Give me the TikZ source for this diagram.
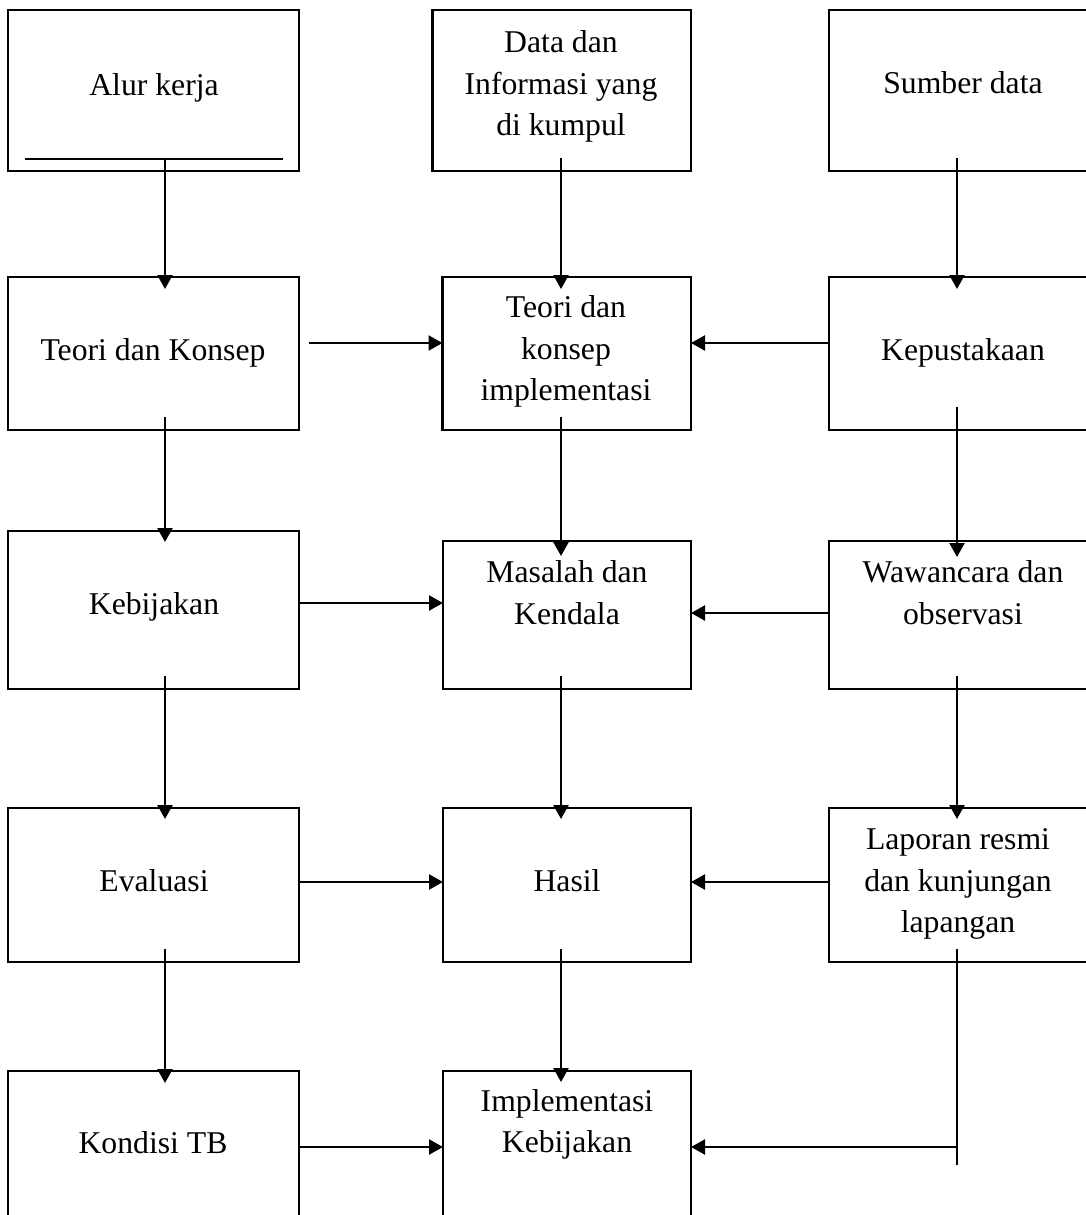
\documentclass[tikz,border=0pt]{standalone}
\usepackage{fontspec}
\setmainfont{Liberation Serif}
\usetikzlibrary{arrows.meta}
\tikzset{
  box/.style={draw, line width=2.3pt, inner sep=0pt, outer sep=0pt, rectangle},
  txt/.style={inner sep=0pt, outer sep=0pt, align=center, font=\fontsize{31.7}{41.5}\selectfont},
  conn/.style={line width=2.3pt},
  arr/.style={line width=2.3pt, -{Triangle[length=14pt,width=15pt]}},
}
\begin{document}
\begin{tikzpicture}[x=1pt,y=-1pt]
\clip (0,0) rectangle (1086,1215);
\fill[white] (0,0) rectangle (1086,1215);
% boxes
\node[box, minimum width=291pt, minimum height=161pt] (a1) at (153.5,90.5) {};
\node[box, minimum width=258.5pt, minimum height=161pt] (a2) at (561.75,90.5) {};
\node[box, minimum width=268pt, minimum height=161pt] (a3) at (963,90.5) {};
\node[box, minimum width=291pt, minimum height=153pt] (b1) at (153.5,353.5) {};
\node[box, minimum width=248.5pt, minimum height=153pt] (b2) at (566.75,353.5) {};
\node[box, minimum width=268pt, minimum height=153pt] (b3) at (963,353.5) {};
\node[box, minimum width=291pt, minimum height=158pt] (c1) at (153.5,610) {};
\node[box, minimum width=248pt, minimum height=148pt] (c2) at (567,615) {};
\node[box, minimum width=268pt, minimum height=148pt] (c3) at (963,615) {};
\node[box, minimum width=291pt, minimum height=154pt] (d1) at (153.5,885) {};
\node[box, minimum width=248pt, minimum height=154pt] (d2) at (567,885) {};
\node[box, minimum width=268pt, minimum height=154pt] (d3) at (963,885) {};
\node[box, minimum width=291pt, minimum height=169pt] (e1) at (153.5,1155.5) {};
\node[box, minimum width=248pt, minimum height=169pt] (e2) at (567,1155.5) {};
% texts
\node[txt] (ta1) at (154,87) {\strut Alur kerja};
\node[txt] (ta2) at (561,86) {\strut Data dan\\\strut Informasi yang\\\strut di kumpul};
\node[txt] (ta3) at (963,85) {\strut Sumber data};
\node[txt] (tb1) at (153,352) {\strut Teori dan Konsep};
\node[txt] (tb2) at (566,351) {\strut Teori dan\\\strut konsep\\\strut implementasi};
\node[txt] (tb3) at (963,352) {\strut Kepustakaan};
\node[txt] (tc1) at (154,606) {\strut Kebijakan};
\node[txt] (tc2) at (567,595) {\strut Masalah dan\\\strut Kendala};
\node[txt] (tc3) at (963,595) {\strut Wawancara dan\\\strut observasi};
\node[txt] (td1) at (154,883) {\strut Evaluasi};
\node[txt] (td2) at (567,883) {\strut Hasil};
\node[txt] (td3) at (958,883) {\strut Laporan resmi\\\strut dan kunjungan\\\strut lapangan};
\node[txt] (te1) at (153,1145) {\strut Kondisi TB};
\node[txt] (te2) at (567,1123.5) {\strut Implementasi\\\strut Kebijakan};
% line inside Alur kerja box
\draw[conn] ([xshift=-128.5pt,yshift=12pt]a1.south) -- ([xshift=129.5pt,yshift=12pt]a1.south);
% column 1 vertical arrows
\draw[arr] ([xshift=11.5pt,yshift=12pt]a1.south) -- ([xshift=11.5pt,yshift=-12pt]b1.north);
\draw[arr] ([xshift=11.5pt,yshift=13pt]b1.south) -- ([xshift=11.5pt,yshift=-11pt]c1.north);
\draw[arr] ([xshift=11.5pt,yshift=13pt]c1.south) -- ([xshift=11.5pt,yshift=-11pt]d1.north);
\draw[arr] ([xshift=11.5pt,yshift=13pt]d1.south) -- ([xshift=11.5pt,yshift=-12pt]e1.north);
% column 2 vertical arrows
\draw[arr] ([xshift=-0.75pt,yshift=13pt]a2.south) -- ([xshift=-5.75pt,yshift=-12pt]b2.north);
\draw[arr] ([xshift=-5.75pt,yshift=13pt]b2.south) -- ([xshift=-6pt,yshift=-15pt]c2.north);
\draw[arr] ([xshift=-6pt,yshift=13pt]c2.south) -- ([xshift=-6pt,yshift=-11pt]d2.north);
\draw[arr] ([xshift=-6pt,yshift=13pt]d2.south) -- ([xshift=-6pt,yshift=-11pt]e2.north);
% column 3 vertical arrows
\draw[arr] ([xshift=-6pt,yshift=13pt]a3.south) -- ([xshift=-6pt,yshift=-12pt]b3.north);
\draw[arr] ([xshift=-6pt,yshift=23pt]b3.south) -- ([xshift=-6pt,yshift=-16pt]c3.north);
\draw[arr] ([xshift=-6pt,yshift=13pt]c3.south) -- ([xshift=-6pt,yshift=-11pt]d3.north);
\coordinate (k) at (957,1147);
\coordinate (kend) at (957,1165);
\draw[conn] ([xshift=-6pt,yshift=13pt]d3.south) -- (kend);
% horizontal arrows
\draw[arr] ([xshift=10pt,yshift=10.5pt]b1.east) -- ([yshift=10.5pt]b2.west);
\draw[arr] ([yshift=10.5pt]b3.west) -- ([yshift=10.5pt]b2.east);
\draw[arr] ([yshift=7pt]c1.east) -- ([yshift=12pt]c2.west);
\draw[arr] ([yshift=2pt]c3.west) -- ([yshift=2pt]c2.east);
\draw[arr] ([yshift=3pt]d1.east) -- ([yshift=3pt]d2.west);
\draw[arr] ([yshift=3pt]d3.west) -- ([yshift=3pt]d2.east);
\draw[arr] ([yshift=8.5pt]e1.east) -- ([yshift=8.5pt]e2.west);
\draw[arr] (k) -- ([yshift=8.5pt]e2.east);
\end{tikzpicture}
\end{document}
